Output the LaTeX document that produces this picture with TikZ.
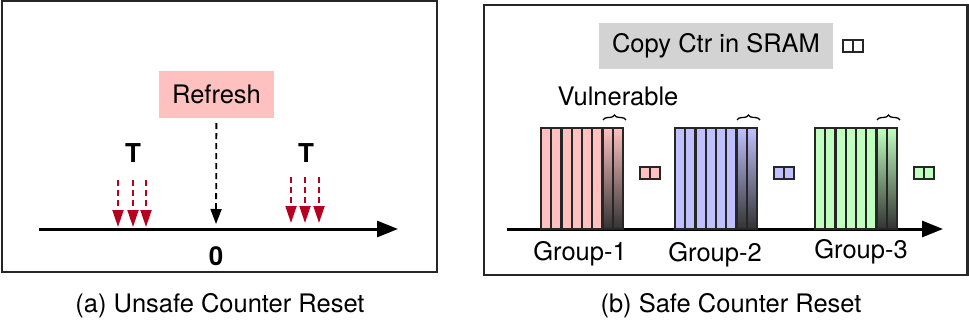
\documentclass[tikz,border=0pt]{standalone}
\usepackage{fontspec}
\setmainfont{TeX Gyre Heros}
\usetikzlibrary{arrows.meta,decorations.pathreplacing}
\definecolor{pinkfill}{HTML}{FFC0C0}
\definecolor{bluefill}{HTML}{C0C0FF}
\definecolor{greenfill}{HTML}{C0FFC0}
\definecolor{grayfill}{HTML}{D3D3D3}
\definecolor{hitred}{HTML}{B5001F}
\tikzset{
  panel/.style={draw=black!85,line width=2.2pt},
  timeaxis/.style={line width=3pt,-{Triangle[length=21pt,width=16pt]}},
  hitarrow/.style={hitred,line width=1.8pt,dash pattern=on 6pt off 4pt,-{Triangle[length=17pt,width=11pt]}},
  refarrow/.style={black,line width=1.8pt,dash pattern=on 6pt off 4pt,-{Triangle[length=15pt,width=11pt]}},
  bar/.style={draw=black!85,line width=2.2pt},
  ctrcell/.style={draw=black!85,line width=1.8pt},
  lbl/.style={font=\fontsize{25.5}{30}\selectfont},
  boldlbl/.style={font=\fontsize{26}{30}\selectfont\bfseries}
}

\begin{document}
\begin{tikzpicture}[x=1pt,y=-1pt]
\useasboundingbox (0,0) rectangle (969,334);
% Panel frames
\draw[panel] (2,1) rectangle (437,272);
\draw[panel] (484,5) rectangle (967.5,275);

% (a) unsafe reset
\coordinate (axL) at (39,229); \coordinate (axR) at (398,229);
\draw[timeaxis] (axL) -- (axR);
\node[lbl,fill=pinkfill,minimum width=115pt,minimum height=47pt,inner sep=0pt] (refresh) at (216.5,94.5) {Refresh};
\coordinate (t0) at (216,229);
\draw[refarrow,shorten <=5pt,shorten >=5pt] (refresh) -- (t0);
\node[boldlbl] (zero) at (216,256) {0};
\node[boldlbl] (tl) at (133,153) {T};
\node[boldlbl] (tr) at (306,153) {T};
\foreach \x [count=\i] in {118,133,146} {\coordinate (hl\i) at (\x,180); \coordinate (el\i) at (\x,229); \draw[hitarrow,shorten >=2pt] (hl\i) -- (el\i);}
\foreach \x [count=\i] in {291,305,319} {\coordinate (hr\i) at (\x,177); \coordinate (er\i) at (\x,229); \draw[hitarrow,shorten >=6pt] (hr\i) -- (er\i);}

% (b) safe reset
\coordinate (bxL) at (507,229); \coordinate (bxR) at (943,229);
\draw[timeaxis] (bxL) -- (bxR);
\node[lbl,fill=grayfill,minimum width=234pt,minimum height=46pt,inner sep=0pt] (sram) at (716,46) {Copy Ctr in SRAM};
\draw[ctrcell,fill=white] (843,40) rectangle ++(20,12); \draw[ctrcell] (853,40) -- ++(0,12);
\node[lbl] (vuln) at (618,96) {Vulnerable};
% Counter groups
\foreach \gx/\gc/\lx/\ly/\n in {541/pinkfill/580/254/1,675/bluefill/715/255/2,815/greenfill/861/252/3}{
  \fill[\gc] (\gx,128) rectangle ++(82,101);
  \shade[top color=\gc,bottom color=black!80] (\gx+61.5,128) rectangle ++(20.5,101);
  \foreach \i in {0,...,7} {\draw[bar] (\gx+\i*10.25,128) rectangle ++(10.25,101);}
  \draw[decorate,decoration={brace,amplitude=5pt},line width=1.3pt] (\gx+62,120) -- (\gx+85,120);
  \draw[ctrcell,fill=\gc] (\gx+99,167) rectangle ++(20,12); \draw[ctrcell] (\gx+109,167) -- ++(0,12);
  \node[lbl] (grp\n) at (\lx,\ly) {Group-\n};
}

% Captions
\node[lbl] (capa) at (220,306) {(a) Unsafe Counter Reset};
\node[lbl] (capb) at (731,306) {(b) Safe Counter Reset};
\end{tikzpicture}
\end{document}
